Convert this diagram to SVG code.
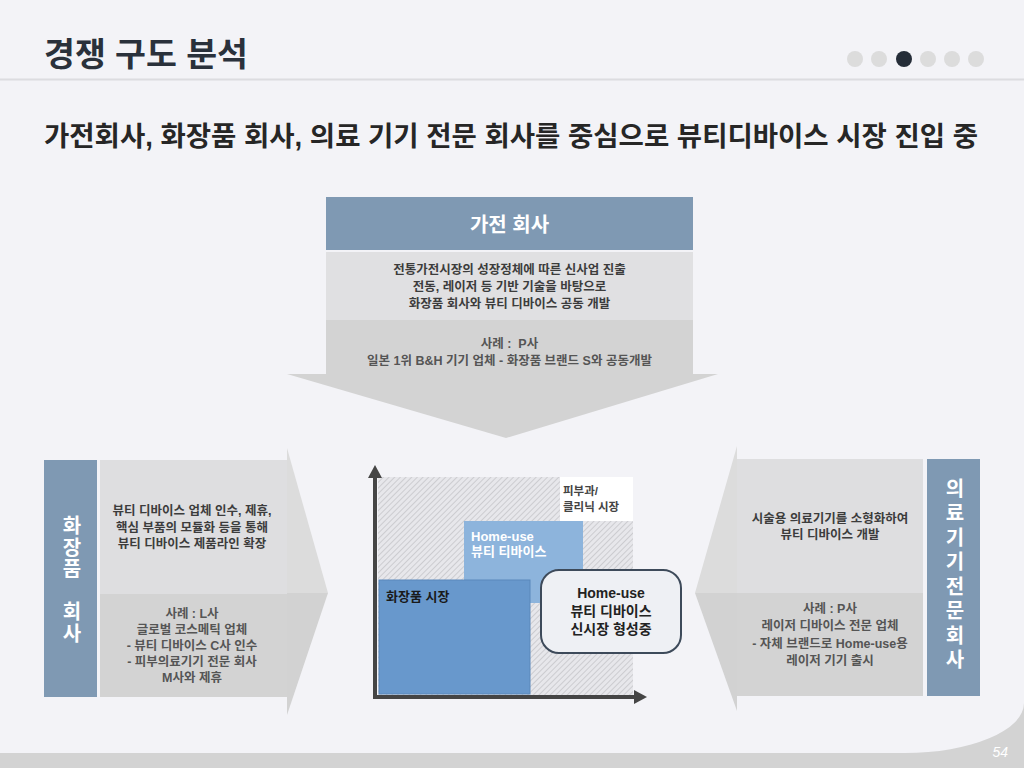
<svg xmlns="http://www.w3.org/2000/svg" width="1024" height="768" viewBox="0 0 1024 768">
<defs>
<style>
text{font-family:'Liberation Sans','Noto Sans CJK KR',sans-serif;font-weight:700}
.desc{font-size:12.5px;fill:#3c3c3c;text-anchor:middle}
.case{font-size:12.5px;fill:#555;text-anchor:middle}
.vert{font-size:20px;fill:#fff;text-anchor:middle;writing-mode:vertical-rl}
.blue{fill:#7f99b3}
.lg{fill:#dedee0}
.dg{fill:#d3d3d3}
.dot{fill:#dcdcdc}
</style>
<pattern id="hatch" width="4" height="4" patternUnits="userSpaceOnUse" patternTransform="rotate(45)">
<rect width="4" height="4" fill="#e7e7eb"/>
<line x1="0" y1="0" x2="0" y2="4" stroke="#c6c6ca" stroke-width="1.6"/>
</pattern>
</defs>
<rect width="1024" height="768" fill="#f3f3f7"/>
<path d="M0 768 L0 753 L905 753 A119 50 0 0 0 1024 703 L1024 768 Z" fill="#d3d3d3"/>
<text x="1008" y="757" font-size="14" fill="#fff" text-anchor="end" style="font-style:italic;font-weight:400">54</text>

<g id="header">
<text x="44" y="66" font-size="33" fill="#2a313b" textLength="204" lengthAdjust="spacingAndGlyphs">경쟁 구도 분석</text>
<circle class="dot" cx="855" cy="59" r="8"/>
<circle class="dot" cx="879" cy="59" r="8"/>
<circle cx="904" cy="59" r="8" fill="#252d38"/>
<circle class="dot" cx="928" cy="59" r="8"/>
<circle class="dot" cx="952" cy="59" r="8"/>
<circle class="dot" cx="976" cy="59" r="8"/>
<line x1="0" y1="79.5" x2="1024" y2="79.5" stroke="#dcdce0" stroke-width="2"/>
<text x="44" y="146" font-size="27" fill="#262626" textLength="934" lengthAdjust="spacingAndGlyphs">가전회사, 화장품 회사, 의료 기기 전문 회사를 중심으로 뷰티디바이스 시장 진입 중</text>
</g>

<g id="connectors">
<polygon points="287,374 718,374 506,438" fill="#d3d3d3"/>
<polygon points="287,448 328,593 287,593" fill="#dcdcdc"/>
<polygon points="287,593 328,593 287,715" fill="#d2d2d2"/>
<polygon points="737,446 695,593 737,593" fill="#dcdcdc"/>
<polygon points="737,593 695,593 737,711" fill="#d2d2d2"/>
</g>

<g id="node-appliance">
<rect class="blue" x="326" y="197" width="367" height="53"/>
<text x="509.5" y="232" font-size="20" fill="#fff" text-anchor="middle">가전 회사</text>
<rect x="326" y="252" width="367" height="68" fill="#e0e0e2"/>
<rect class="dg" x="326" y="320" width="367" height="55"/>
<text class="desc" x="509.5" y="274">전통가전시장의 성장정체에 따른 신사업 진출<tspan x="509.5" dy="17">전동, 레이저 등 기반 기술을 바탕으로</tspan><tspan x="509.5" dy="17">화장품 회사와 뷰티 디바이스 공동 개발</tspan></text>
<text class="case" x="509.5" y="348">사례 :&#160; P사<tspan x="509.5" dy="17">일본 1위 B&amp;H 기기 업체 - 화장품 브랜드 S와 공동개발</tspan></text>
</g>

<g id="node-cosmetics">
<rect class="blue" x="44" y="460" width="53" height="237"/>
<rect class="lg" x="100" y="460" width="187" height="134"/>
<rect class="dg" x="100" y="594" width="187" height="103"/>
<text class="vert" x="70.5" y="580" letter-spacing="1.5">화장품&#12288;회사</text>
<text class="desc" x="192" y="515">뷰티 디바이스 업체 인수, 제휴,<tspan x="192" dy="16.5">핵심 부품의 모듈화 등을 통해</tspan><tspan x="192" dy="16.5">뷰티 디바이스 제품라인 확장</tspan></text>
<text class="case" x="192" y="618">사례 : L사<tspan x="192" dy="16">글로벌 코스메틱 업체</tspan><tspan x="192" dy="16">- 뷰티 디바이스 C사 인수</tspan><tspan x="192" dy="16">- 피부의료기기 전문 회사</tspan><tspan x="192" dy="16">M사와 제휴</tspan></text>
</g>

<g id="node-medical">
<rect class="lg" x="737" y="459" width="186" height="134"/>
<rect class="dg" x="737" y="593" width="186" height="103"/>
<rect class="blue" x="927" y="459" width="53" height="237"/>
<text class="vert" x="953.5" y="576" letter-spacing="4.5">의료기기전문회사</text>
<text class="desc" x="830" y="523">시술용 의료기기를 소형화하여<tspan x="830" dy="16">뷰티 디바이스 개발</tspan></text>
<text class="case" x="830" y="613">사례 : P사<tspan x="830" dy="17">레이저 디바이스 전문 업체</tspan><tspan x="830" dy="18">- 자체 브랜드로 Home-use용</tspan><tspan x="830" dy="17">레이저 기기 출시</tspan></text>
</g>

<g id="chart">
<rect x="378" y="477" width="255" height="218" fill="url(#hatch)"/>
<g id="node-clinic">
<rect x="560" y="477" width="73" height="44" fill="#fff"/>
<text x="563" y="495" font-size="11.5" fill="#444">피부과/<tspan x="563" dy="16">클리닉 시장</tspan></text>
</g>
<g id="node-homeuse">
<rect x="464" y="521" width="119" height="82" fill="#8db4dc"/>
<text x="471" y="541" font-size="13" fill="#fff">Home-use<tspan x="471" dy="15">뷰티 티바이스</tspan></text>
</g>
<g id="node-cosmarket">
<rect x="379" y="580" width="151" height="114" fill="#6898cc" stroke="#5a88bb" stroke-width="1"/>
<text x="386" y="601" font-size="13" fill="#1a1a1a">화장품 시장</text>
</g>
<g id="node-newmarket">
<rect x="541" y="570" width="140" height="83" rx="18" fill="#eef0f4" stroke="#3d4a5a" stroke-width="2"/>
<text x="611" y="598" font-size="14" fill="#222" text-anchor="middle">Home-use<tspan x="611" dy="18">뷰티 디바이스</tspan><tspan x="611" dy="18">신시장 형성중</tspan></text>
</g>
<g id="axes" fill="#454545">
<rect x="373" y="476" width="4" height="223"/>
<rect x="373" y="695" width="262" height="4"/>
<polygon points="375,465 382,478 368,478"/>
<polygon points="647,697 634,690 634,704"/>
</g>
</g>
</svg>
